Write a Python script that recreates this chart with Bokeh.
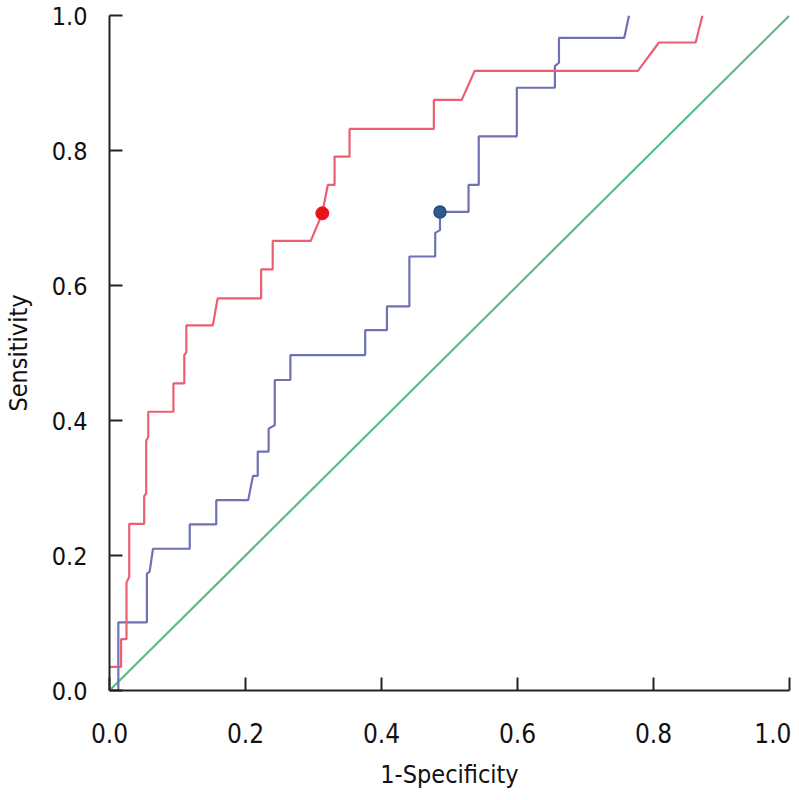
from bokeh.plotting import figure
from bokeh.embed import file_html
from bokeh.resources import INLINE
from bokeh.models import Range1d, FixedTicker, PrintfTickFormatter

# ROC curve vertices
red_fpr = [0.0, 0.017, 0.017, 0.025, 0.025, 0.029, 0.029, 0.051, 0.051, 0.054, 0.054, 0.057, 0.057,
           0.094, 0.094, 0.110, 0.110, 0.113, 0.113, 0.152, 0.159, 0.223, 0.223, 0.240, 0.240,
           0.296, 0.313, 0.321, 0.331, 0.331, 0.353, 0.353, 0.477, 0.477, 0.518, 0.537,
           0.777, 0.808, 0.862, 0.872]
red_tpr = [0.035, 0.035, 0.076, 0.076, 0.160, 0.168, 0.247, 0.247, 0.288, 0.292, 0.370, 0.376, 0.413,
           0.413, 0.455, 0.455, 0.497, 0.501, 0.541, 0.541, 0.581, 0.581, 0.624, 0.624, 0.666,
           0.666, 0.707, 0.749, 0.749, 0.791, 0.791, 0.832, 0.832, 0.875, 0.875, 0.918,
           0.918, 0.960, 0.960, 1.0]

blue_fpr = [0.0, 0.013, 0.013, 0.055, 0.055, 0.059, 0.064, 0.118, 0.118, 0.157, 0.157, 0.204,
            0.211, 0.218, 0.218, 0.234, 0.234, 0.243, 0.243, 0.266, 0.266, 0.376, 0.376, 0.408,
            0.408, 0.441, 0.441, 0.479, 0.479, 0.486, 0.486, 0.528, 0.528, 0.543, 0.543,
            0.599, 0.599, 0.655, 0.655, 0.661, 0.661, 0.757, 0.764]
blue_tpr = [0.0, 0.0, 0.101, 0.101, 0.173, 0.176, 0.210, 0.210, 0.246, 0.246, 0.282, 0.282,
            0.318, 0.318, 0.354, 0.354, 0.388, 0.393, 0.460, 0.460, 0.497, 0.497, 0.534, 0.534,
            0.569, 0.569, 0.643, 0.643, 0.678, 0.682, 0.709, 0.709, 0.749, 0.749, 0.821,
            0.821, 0.893, 0.893, 0.925, 0.930, 0.967, 0.967, 1.0]

ref_x = [0.0, 1.0]
ref_y = [0.0, 1.0]

red_cut_x = [0.313]
red_cut_y = [0.707]
blue_cut_x = [0.486]
blue_cut_y = [0.709]

ticks = [0.0, 0.2, 0.4, 0.6, 0.8, 1.0]

FONT = "DejaVu Sans Condensed"

p = figure(width=791, height=791, output_backend="svg", toolbar_location=None,
           x_range=Range1d(0, 1), y_range=Range1d(0, 1),
           min_border_left=106, min_border_right=2, min_border_top=15, min_border_bottom=100)
p.outline_line_color = None
p.grid.visible = False
p.background_fill_color = "white"
p.border_fill_color = "white"

p.line(ref_x, ref_y, line_color="#5dbb85", line_width=2.2)
p.line(blue_fpr, blue_tpr, line_color="#6e72b4", line_width=2.2)
p.line(red_fpr, red_tpr, line_color="#ea5f72", line_width=2.2)
p.scatter(red_cut_x, red_cut_y, size=13, fill_color="#e8141c", line_color="#e8141c")
p.scatter(blue_cut_x, blue_cut_y, size=12, fill_color="#2e5b8c", line_color="#24497a", line_width=1.5)

for ax in (p.xaxis[0], p.yaxis[0]):
    ax.ticker = FixedTicker(ticks=ticks)
    ax.formatter = PrintfTickFormatter(format="%.1f")
    ax.major_tick_in = 13
    ax.major_tick_out = 0
    ax.minor_tick_line_color = None
    ax.axis_line_width = 2
    ax.axis_line_color = "#222222"
    ax.major_tick_line_width = 2
    ax.major_tick_line_color = "#222222"
    ax.major_label_text_font = FONT
    ax.major_label_text_font_size = "26px"
    ax.major_label_text_color = "#111111"
    ax.axis_label_text_font = FONT
    ax.axis_label_text_font_size = "25px"
    ax.axis_label_text_font_style = "normal"
    ax.axis_label_text_color = "#111111"

p.yaxis[0].major_label_text_font_size = "25px"
p.xaxis.axis_label = "1-Specificity"
p.yaxis.axis_label = "Sensitivity"
p.xaxis.major_label_standoff = 32
p.yaxis.major_label_standoff = 22
p.xaxis.axis_label_standoff = 14
p.yaxis.axis_label_standoff = 16

open("out.html", "w").write(file_html(p, INLINE))
